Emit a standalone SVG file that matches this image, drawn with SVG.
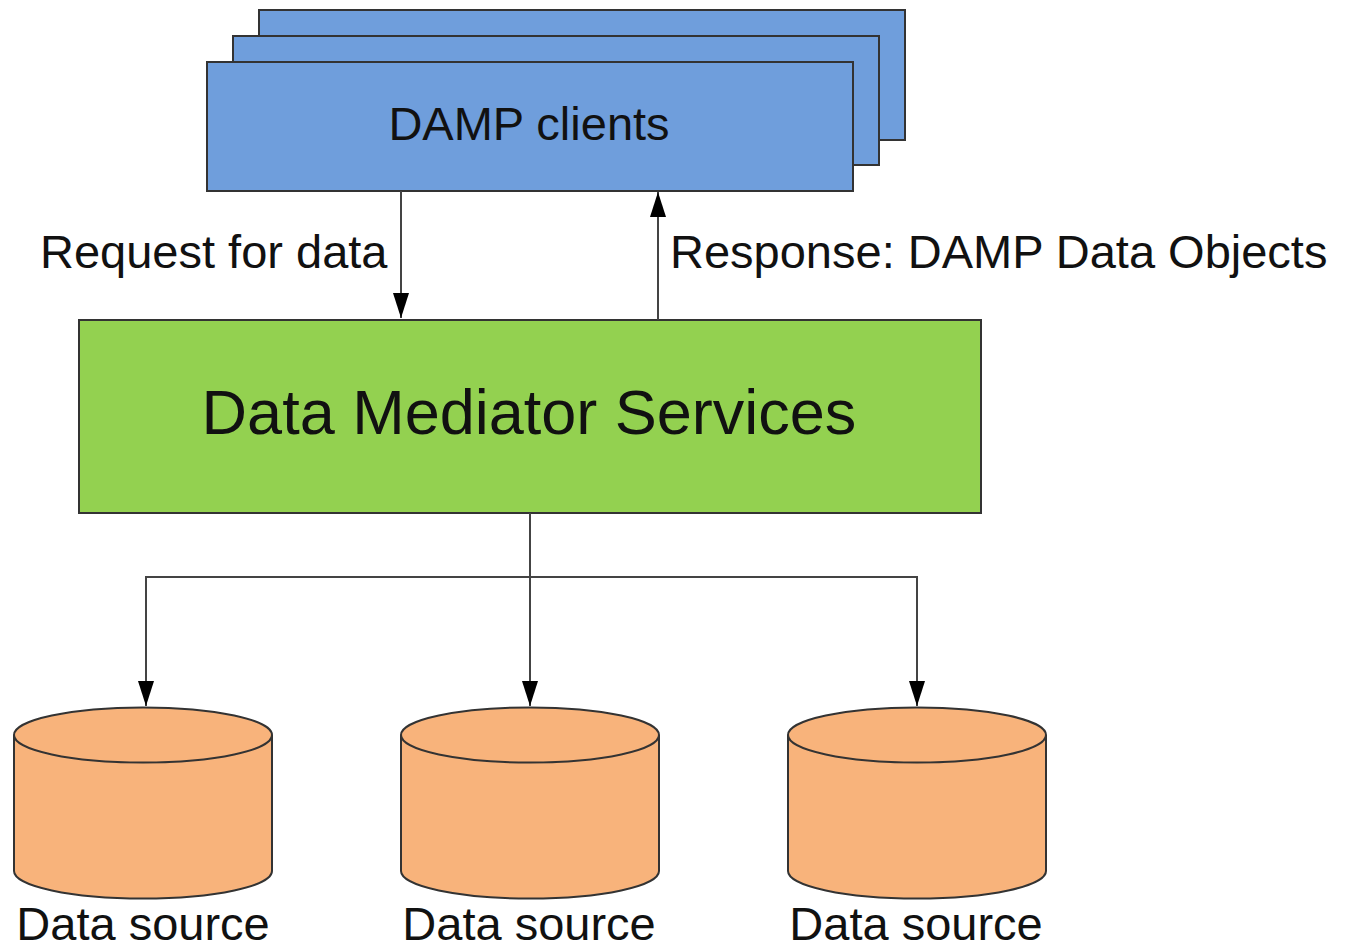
<svg xmlns="http://www.w3.org/2000/svg" width="1345" height="951" viewBox="0 0 1345 951">
<style>
.client{fill:#6f9edc;stroke:#333;stroke-width:2}
.dms{fill:#93d150;stroke:#333;stroke-width:2}
.cyl{fill:#f8b37b;stroke:#333;stroke-width:2}
.conn{fill:none;stroke:#444;stroke-width:2}
text{font-family:"Liberation Sans",Arial,sans-serif;fill:#111}
</style>
<defs>
<marker id="ah" viewBox="0 0 25 16" refX="25" refY="8" markerWidth="25" markerHeight="16" markerUnits="userSpaceOnUse" orient="auto">
<path d="M0,0 L25,8 L0,16 Z" fill="#000"/>
</marker>
</defs>
<rect width="1345" height="951" fill="#fff"/>
<g id="clients">
<rect class="client" x="259" y="10" width="646" height="130"/>
<rect class="client" x="233" y="36" width="646" height="129"/>
<rect class="client" x="207" y="62" width="646" height="129"/>
<text x="529" y="140" font-size="47" text-anchor="middle">DAMP clients</text>
</g>
<g id="mediator">
<rect class="dms" x="79" y="320" width="902" height="193"/>
<text x="529" y="434" font-size="63" text-anchor="middle">Data Mediator Services</text>
</g>
<g id="source1">
<path class="cyl" d="M14,735 L14,871 A129,27.5 0 0 0 272,871 L272,735 A129,27.5 0 0 0 14,735 Z"/>
<path class="cyl" d="M14,735 A129,27.5 0 0 0 272,735" fill="none"/>
<text x="143" y="940" font-size="47" text-anchor="middle">Data source</text>
</g>
<g id="source2">
<path class="cyl" d="M401,735 L401,871 A129,27.5 0 0 0 659,871 L659,735 A129,27.5 0 0 0 401,735 Z"/>
<path class="cyl" d="M401,735 A129,27.5 0 0 0 659,735" fill="none"/>
<text x="529" y="940" font-size="47" text-anchor="middle">Data source</text>
</g>
<g id="source3">
<path class="cyl" d="M788,735 L788,871 A129,27.5 0 0 0 1046,871 L1046,735 A129,27.5 0 0 0 788,735 Z"/>
<path class="cyl" d="M788,735 A129,27.5 0 0 0 1046,735" fill="none"/>
<text x="916" y="940" font-size="47" text-anchor="middle">Data source</text>
</g>
<g id="connectors">
<line class="conn" x1="401" y1="191" x2="401" y2="318" marker-end="url(#ah)"/>
<line class="conn" x1="658" y1="320" x2="658" y2="192" marker-end="url(#ah)"/>
<line class="conn" x1="530" y1="513" x2="530" y2="706" marker-end="url(#ah)"/>
<polyline class="conn" points="530,577 146,577 146,706" marker-end="url(#ah)"/>
<polyline class="conn" points="530,577 917,577 917,706" marker-end="url(#ah)"/>
<text x="40" y="268" font-size="47">Request for data</text>
<text x="670" y="268" font-size="47">Response: DAMP Data Objects</text>
</g>
</svg>
